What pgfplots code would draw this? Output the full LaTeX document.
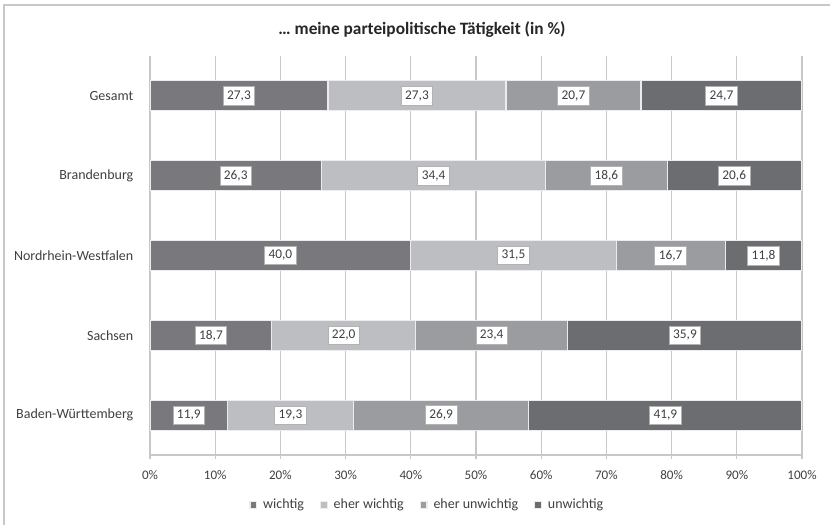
\documentclass[border=0pt]{standalone}
\usepackage{pgfplots}
\usepackage{pgfplotstable}
\pgfplotsset{compat=1.18}
\usepackage{fontspec}
\setmainfont{Carlito}
\definecolor{cw}{RGB}{121,121,125}
\definecolor{cew}{RGB}{189,190,193}
\definecolor{ceu}{RGB}{155,156,160}
\definecolor{cu}{RGB}{108,109,113}
\definecolor{txt}{RGB}{64,64,64}
\definecolor{gridc}{RGB}{200,200,200}
\pgfplotstableread{
y w ew eu u
0 11.9 19.3 26.9 41.9
1 18.7 22.0 23.4 35.9
2 40.0 31.5 16.7 11.8
3 26.3 34.4 18.6 20.6
4 27.3 27.3 20.7 24.7
}\data
\begin{document}
\begin{tikzpicture}
\path[use as bounding box] (0,0) rectangle (622.5pt,393.75pt);
\draw[gridc, line width=1.2pt] (3pt,0) -- (3pt,390pt) -- (622.5pt,390pt);
\node[font=\bfseries\fontsize{13pt}{15pt}\selectfont, text=black!85] at (316.5pt,371.25pt) {\dots\ meine parteipolitische Tätigkeit (in \%)};
\begin{axis}[
  at={(112.5pt,52.5pt)}, anchor=south west,
  scale only axis, width=489pt, height=299.25pt,
  xbar stacked, bar width=22.5pt,
  xmin=0, xmax=100, ymin=-0.5, ymax=4.5,
  axis line style={gridc, line width=0.8pt},
  axis x line*=bottom, axis y line*=left,
  xtick={0,10,...,100},
  xticklabel={\pgfmathprintnumber[fixed,precision=0,assume math mode=true]{\tick}\%},
  xmajorgrids, grid style={gridc, line width=0.8pt},
  ytick={0,1,2,3,4},
  yticklabels={Baden-Württemberg,Sachsen,Nordrhein-Westfalen,Brandenburg,Gesamt},
  extra y ticks={0.5,1.5,2.5,3.5,4.5},
  extra y tick labels={},
  extra y tick style={major tick length=4pt, tick style={gridc, line width=0.8pt}, grid=none},
  ytick style={draw=none},
  xtick style={gridc, line width=0.8pt},
  tick align=outside, major tick length=3pt,
  xticklabel style={font=\fontsize{9.8pt}{11pt}\selectfont, text=txt, yshift=-5pt},
  yticklabel style={font=\fontsize{10.5pt}{12pt}\selectfont, text=txt, xshift=-6pt},
  legend columns=4,
  legend style={draw=none, fill=none, at={(0.146,-0.125)}, anchor=west,
    font=\fontsize{10.5pt}{12pt}\selectfont, text=txt,
    /tikz/every even column/.append style={column sep=10pt},
    /tikz/every odd column/.append style={column sep=2.5pt}},
  legend image code/.code={\fill[#1] (0pt,-2.6pt) rectangle (5pt,2.4pt);},
  every axis plot/.append style={draw=white!85!gray, line width=0.8pt},
  point meta=explicit,
  nodes near coords={\pgfmathprintnumber[use comma, fixed, fixed zerofill, precision=1, assume math mode=true]{\pgfplotspointmeta}},
  nodes near coords align={center},
  every node near coord/.append style={anchor=center, fill=white, draw=black!30, line width=0.5pt,
    font=\fontsize{10pt}{12pt}\selectfont, text=txt, inner xsep=3pt, inner ysep=3pt},
]
\addplot[fill=cw] table[x=w, y=y, meta=w] {\data};
\addplot[fill=cew] table[x=ew, y=y, meta=ew] {\data};
\addplot[fill=ceu] table[x=eu, y=y, meta=eu] {\data};
\addplot[fill=cu] table[x=u, y=y, meta=u] {\data};
\legend{wichtig, eher wichtig, eher unwichtig, unwichtig}
\end{axis}
\end{tikzpicture}
\end{document}
